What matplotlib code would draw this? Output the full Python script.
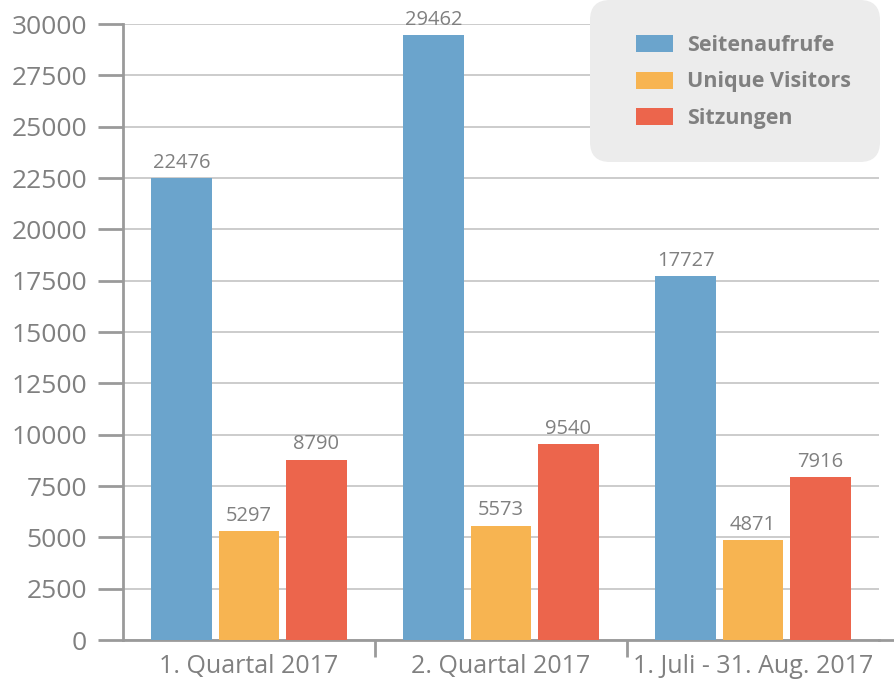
import matplotlib.pyplot as plt
import numpy as np
from matplotlib.lines import Line2D
from matplotlib.patches import FancyBboxPatch
from matplotlib.transforms import IdentityTransform

plt.rcParams['font.family'] = ['Open Sans', 'DejaVu Sans']

groups = ['1. Quartal 2017', '2. Quartal 2017', '1. Juli - 31. Aug. 2017']
series = ['Seitenaufrufe', 'Unique Visitors', 'Sitzungen']
seitenaufrufe = [22476, 29462, 17727]
unique_visitors = [5297, 5573, 4871]
sitzungen = [8790, 9540, 7916]
colors = ['#6ba4cc', '#f7b451', '#ec654c']
yticks = list(range(0, 30001, 2500))

gray = '#808080'
axis_gray = '#9a9a9a'

fig = plt.figure(figsize=(8.94, 6.81), dpi=100)
ax = fig.add_axes([123/894, 41/681, 756/894, 616/681])

x = np.arange(len(groups))
w = 0.242
step = 0.266
handles = []
for i, (vals, name) in enumerate(zip([seitenaufrufe, unique_visitors, sitzungen], series)):
    xs = x + (i - 1) * step
    b = ax.bar(xs, vals, width=w, color=colors[i], label=name, zorder=3)
    handles.append(b)
    for xi, v in zip(xs, vals):
        ax.text(xi, v + 250, str(v), ha='center', va='bottom', fontsize=14.5, color=gray, zorder=4)

ax.set_xlim(-0.5, 2.5)
ax.set_ylim(0, 30000)
ax.set_yticks(yticks)
ax.set_yticklabels([str(t) for t in yticks], fontsize=19, color=gray)
ax.yaxis.grid(True, color='#c8c8c8', linewidth=1.3, zorder=0)
ax.set_axisbelow(True)

ax.set_xticks(x)
ax.set_xticklabels(groups, fontsize=18, color=gray)
ax.set_xticks([0.5, 1.5], minor=True)
ax.tick_params(axis='x', which='major', length=0, pad=10)
ax.tick_params(axis='x', which='minor', length=12, width=2, color=axis_gray)
ax.tick_params(axis='y', length=18, width=2, color=axis_gray, pad=8)

for s in ['top', 'right']:
    ax.spines[s].set_visible(False)
for s in ['left', 'bottom']:
    ax.spines[s].set_color(axis_gray)
    ax.spines[s].set_linewidth(2)
# bottom axis line runs to the figure edge
ax.add_line(Line2D([1.0, 1.03], [0, 0], transform=ax.transAxes, color=axis_gray,
                   linewidth=2, clip_on=False))

# legend background box (pixel coords)
box = FancyBboxPatch((590, 681 - 162), 290, 162, boxstyle='round,pad=0,rounding_size=20',
                     transform=IdentityTransform(), facecolor='#ececec', edgecolor='none', zorder=2)
fig.add_artist(box)

leg = fig.legend(handles=handles, labels=series, loc='upper left',
                 bbox_to_anchor=(636/894, 1 - 35/681), frameon=False,
                 prop={'weight': 'bold', 'size': 15.5}, labelcolor=gray,
                 handlelength=1.72, handleheight=0.84, handletextpad=0.65,
                 labelspacing=0.72, borderpad=0, borderaxespad=0)
leg.set_zorder(5)

fig.savefig('out.png', dpi=100)
